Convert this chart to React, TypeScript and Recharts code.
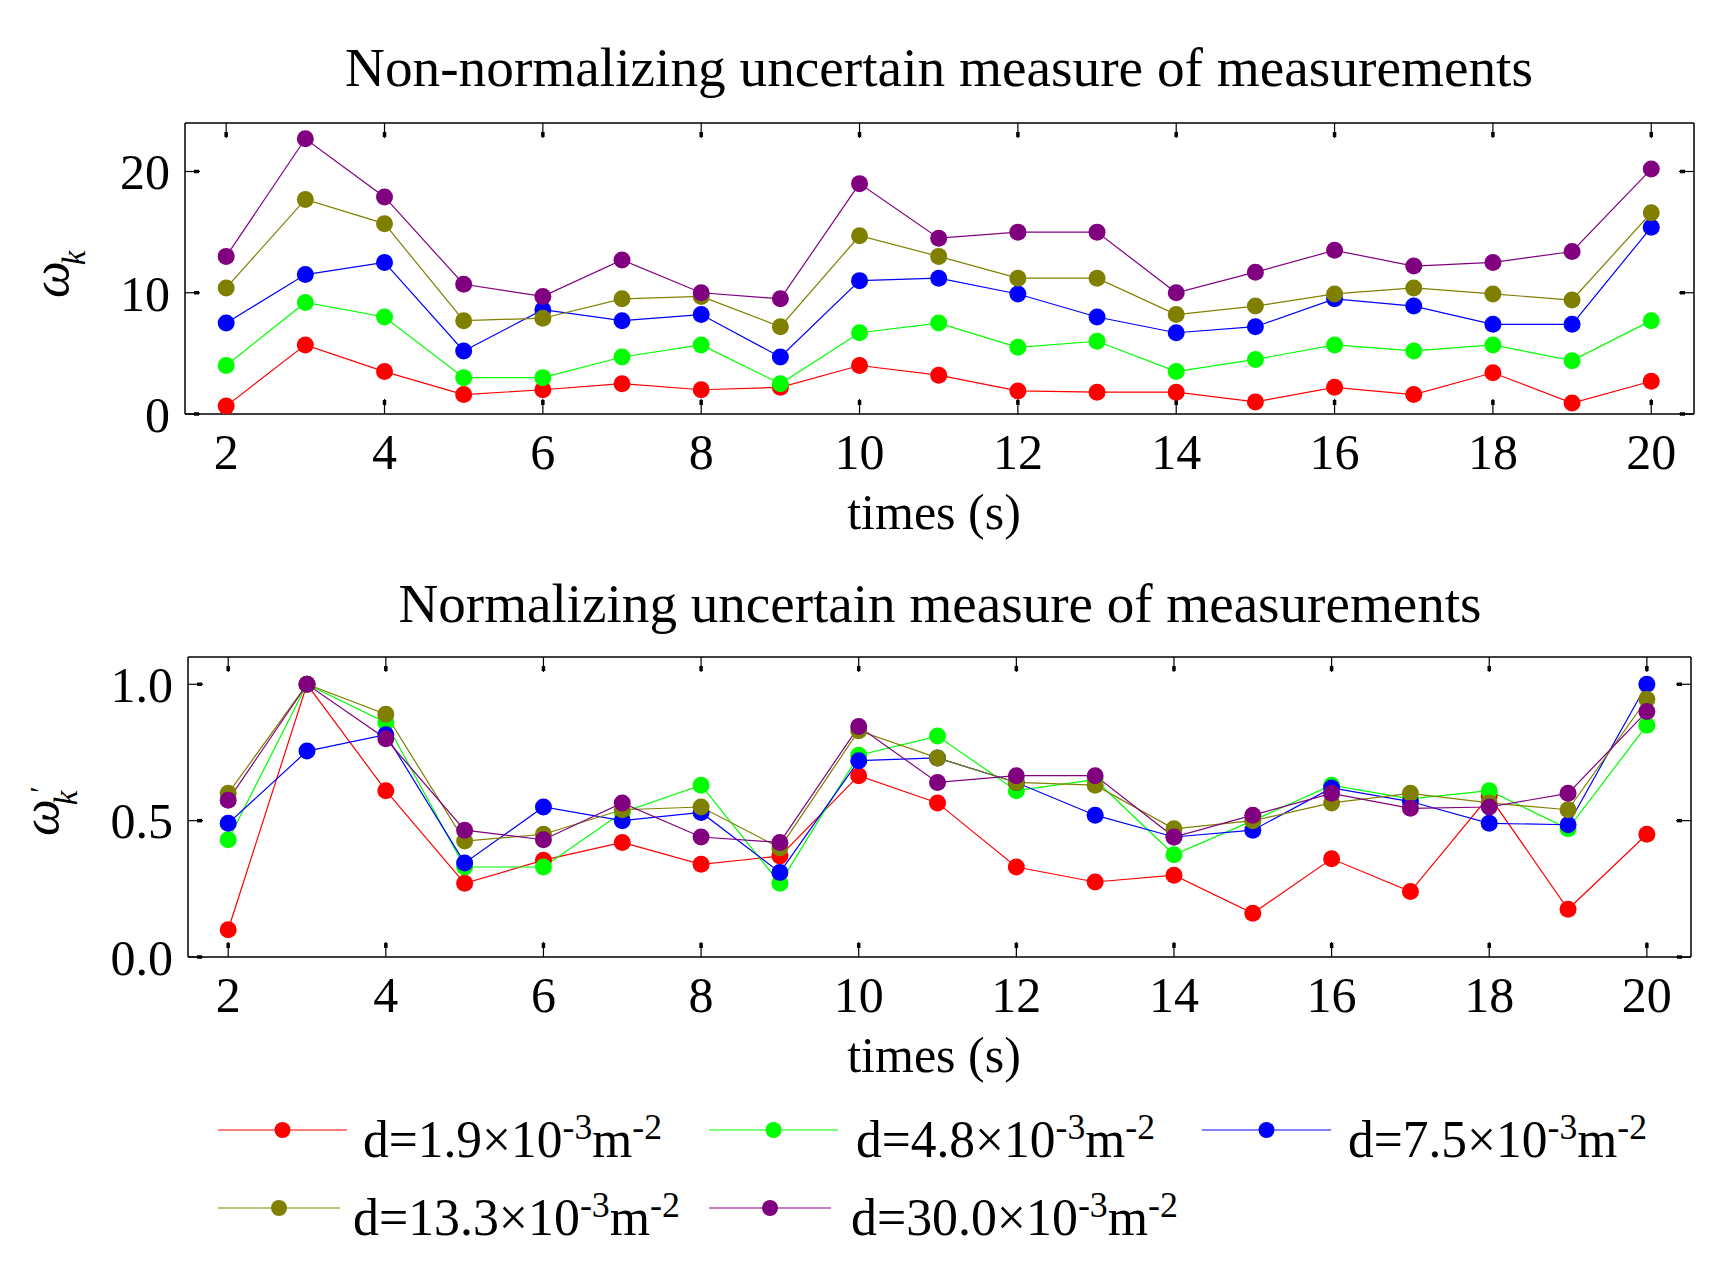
import React from 'react'
import { LineChart, Line, XAxis, YAxis } from 'recharts'

// time axis
const TIMES = [2, 3, 4, 5, 6, 7, 8, 9, 10, 11, 12, 13, 14, 15, 16, 17, 18, 19, 20]
const X_TICKS = [2, 4, 6, 8, 10, 12, 14, 16, 18, 20]
const RAW_Y_TICKS = [0, 10, 20]
const NORM_Y_TICKS = [0, 0.5, 1.0]

// non-normalizing uncertain measure (omega_k)
const RAW_D19 = [0.65, 5.7, 3.5, 1.6, 2.0, 2.5, 2.0, 2.2, 4.0, 3.2, 1.9, 1.8, 1.8, 1.0, 2.2, 1.6, 3.4, 0.9, 2.7]
const RAW_D48 = [4.0, 9.2, 8.0, 3.0, 3.0, 4.7, 5.7, 2.5, 6.7, 7.5, 5.5, 6.0, 3.5, 4.5, 5.7, 5.2, 5.7, 4.4, 7.7]
const RAW_D75 = [7.5, 11.5, 12.5, 5.2, 8.6, 7.7, 8.2, 4.7, 11.0, 11.2, 9.9, 8.0, 6.7, 7.2, 9.5, 8.9, 7.4, 7.4, 15.4]
const RAW_D133 = [10.4, 17.7, 15.7, 7.7, 7.9, 9.5, 9.7, 7.2, 14.7, 13.0, 11.2, 11.2, 8.2, 8.9, 9.9, 10.4, 9.9, 9.4, 16.6]
const RAW_D300 = [13.0, 22.7, 17.9, 10.7, 9.7, 12.7, 10.0, 9.5, 19.0, 14.5, 15.0, 15.0, 10.0, 11.7, 13.5, 12.2, 12.5, 13.4, 20.2]

// normalizing uncertain measure (omega'_k)
const NORM_D19 = [0.1, 1.0, 0.61, 0.27, 0.355, 0.42, 0.34, 0.37, 0.665, 0.565, 0.33, 0.275, 0.3, 0.16, 0.36, 0.24, 0.59, 0.175, 0.45]
const NORM_D48 = [0.43, 1.0, 0.86, 0.33, 0.33, 0.53, 0.63, 0.27, 0.74, 0.81, 0.61, 0.65, 0.375, 0.5, 0.63, 0.58, 0.61, 0.47, 0.85]
const NORM_D75 = [0.49, 0.755, 0.815, 0.345, 0.55, 0.5, 0.53, 0.31, 0.72, 0.73, 0.64, 0.52, 0.44, 0.465, 0.62, 0.57, 0.49, 0.485, 1.0]
const NORM_D133 = [0.6, 1.0, 0.89, 0.425, 0.45, 0.54, 0.55, 0.4, 0.83, 0.73, 0.64, 0.63, 0.47, 0.5, 0.565, 0.6, 0.565, 0.54, 0.945]
const NORM_D300 = [0.575, 1.0, 0.8, 0.465, 0.43, 0.565, 0.44, 0.42, 0.845, 0.64, 0.665, 0.665, 0.44, 0.52, 0.6, 0.545, 0.55, 0.6, 0.9]

const SERIES = [
  { key: 'd19', label: '1.9', color: '#ff0000', raw: RAW_D19, norm: NORM_D19 },
  { key: 'd48', label: '4.8', color: '#00ff00', raw: RAW_D48, norm: NORM_D48 },
  { key: 'd75', label: '7.5', color: '#0000ff', raw: RAW_D75, norm: NORM_D75 },
  { key: 'd133', label: '13.3', color: '#808000', raw: RAW_D133, norm: NORM_D133 },
  { key: 'd300', label: '30.0', color: '#800080', raw: RAW_D300, norm: NORM_D300 },
]

const rawData = TIMES.map((t, i) => {
  const row: Record<string, number> = { t }
  SERIES.forEach(s => { row[s.key] = s.raw[i] })
  return row
})

const normData = TIMES.map((t, i) => {
  const row: Record<string, number> = { t }
  SERIES.forEach(s => { row[s.key] = s.norm[i] })
  return row
})

const FONT = '"Liberation Serif", "DejaVu Serif", serif'
const TICK_TEXT = { fontFamily: FONT, fontSize: 50, fill: '#000' }
const blank = () => ''
const thinTick = { stroke: '#000', strokeWidth: 1.2 }
const blockTick = { stroke: '#000', strokeWidth: 3.5, strokeDasharray: '5 40' }

// box frame with inward ticks on all four sides (axes are 1px thick so they still render)
function frameAxes(xDomain: number[], yDomain: number[], yTicks: number[], yFmt: (v: number) => string) {
  const common = { allowDataOverflow: true, interval: 0 as const, stroke: '#000', tickSize: -15 }
  return [
    <XAxis key="xb" xAxisId="x" dataKey="t" type="number" domain={xDomain} ticks={X_TICKS} height={1}
      {...common} axisLine={{ strokeWidth: 1.5 }} tickLine={thinTick} tickMargin={34.5} tick={TICK_TEXT} />,
    <XAxis key="xb2" xAxisId="xb2" dataKey="t" type="number" domain={xDomain} ticks={X_TICKS} height={1}
      {...common} axisLine={false} tickLine={blockTick} tickFormatter={blank} />,
    <XAxis key="xt" xAxisId="xt" orientation="top" dataKey="t" type="number" domain={xDomain} ticks={X_TICKS} height={1}
      {...common} axisLine={{ strokeWidth: 1.5 }} tickLine={thinTick} tickFormatter={blank} />,
    <XAxis key="xt2" xAxisId="xt2" orientation="top" dataKey="t" type="number" domain={xDomain} ticks={X_TICKS} height={1}
      {...common} axisLine={false} tickLine={blockTick} tickFormatter={blank} />,
    <YAxis key="yl" yAxisId="y" type="number" domain={yDomain} ticks={yTicks} width={1}
      {...common} axisLine={{ strokeWidth: 1.5 }} tickLine={thinTick} tickMargin={30} tick={TICK_TEXT} tickFormatter={yFmt} />,
    <YAxis key="yl2" yAxisId="yl2" type="number" domain={yDomain} ticks={yTicks} width={1}
      {...common} axisLine={false} tickLine={blockTick} tickFormatter={blank} />,
    <YAxis key="yr" yAxisId="yr" orientation="right" type="number" domain={yDomain} ticks={yTicks} width={1}
      {...common} axisLine={{ strokeWidth: 1.5 }} tickLine={thinTick} tickFormatter={blank} />,
    <YAxis key="yr2" yAxisId="yr2" orientation="right" type="number" domain={yDomain} ticks={yTicks} width={1}
      {...common} axisLine={false} tickLine={blockTick} tickFormatter={blank} />,
  ]
}

function seriesLines() {
  return SERIES.map(s => (
    <Line
      key={s.key}
      xAxisId="x"
      yAxisId="y"
      type="linear"
      dataKey={s.key}
      stroke={s.color}
      strokeWidth={1.2}
      dot={{ r: 8.5, fill: s.color, stroke: 'none' }}
      activeDot={false}
      isAnimationActive={false}
    />
  ))
}

// legend slots: line start, line length, text start, line y, text baseline
const LEGEND_POS = [
  { x: 218, len: 129, tx: 363, y: 1130, base: 1157 },
  { x: 709, len: 129, tx: 856, y: 1130, base: 1157 },
  { x: 1202, len: 129, tx: 1348, y: 1130, base: 1157 },
  { x: 218, len: 122, tx: 353, y: 1208, base: 1235 },
  { x: 709, len: 122, tx: 851, y: 1208, base: 1235 },
]

function Overlay() {
  const textStyle = { fontFamily: FONT, fill: '#000' }
  return (
    <svg width={1728} height={1270} style={{ position: 'absolute', left: 0, top: 0, pointerEvents: 'none' }}>
      <text x={939} y={86} fontSize={55} textAnchor="middle" textLength={1188} lengthAdjust="spacingAndGlyphs" style={textStyle}>
        Non-normalizing uncertain measure of measurements
      </text>
      <text x={940} y={622} fontSize={55} textAnchor="middle" textLength={1083} lengthAdjust="spacingAndGlyphs" style={textStyle}>
        Normalizing uncertain measure of measurements
      </text>
      <text x={934} y={529} fontSize={50} textAnchor="middle" style={textStyle}>times (s)</text>
      <text x={934} y={1072} fontSize={50} textAnchor="middle" style={textStyle}>times (s)</text>

      <text transform="translate(68, 298) rotate(-90)" fontSize={52} fontStyle="italic" style={textStyle}>
        ω<tspan fontSize={33} dx={-4} dy={17}>k</tspan>
      </text>
      <text transform="translate(58, 836) rotate(-90)" fontSize={52} fontStyle="italic" style={textStyle}>
        ω<tspan fontSize={33} dx={-6} dy={19}>k</tspan>
        <tspan fontSize={30} dx={-2} dy={-27} fontStyle="normal">′</tspan>
      </text>

      {SERIES.map((s, i) => {
        const p = LEGEND_POS[i]
        return (
          <g key={s.key}>
            <line x1={p.x} x2={p.x + p.len} y1={p.y} y2={p.y} stroke={s.color} strokeWidth={1.2} />
            <circle cx={p.x + p.len / 2} cy={p.y} r={8} fill={s.color} />
            <text x={p.tx} y={p.base} fontSize={52} textLength={299 + 28 * (s.label.length - 3)}
              lengthAdjust="spacingAndGlyphs" style={textStyle}>
              {`d=${s.label}×10`}
              <tspan fontSize={36} dy={-18}>-3</tspan>
              <tspan fontSize={52} dy={18}>m</tspan>
              <tspan fontSize={36} dy={-18}>-2</tspan>
            </text>
          </g>
        )
      })}
    </svg>
  )
}

export default function App() {
  return (
    <div style={{ position: 'relative', width: 1728, height: 1270, background: '#fff', overflow: 'hidden' }}>
      <style>{'body{margin:0}'}</style>
      <div style={{ position: 'absolute', left: 0, top: 0 }}>
        <LineChart width={1728} height={560} data={rawData} margin={{ top: 121, right: 32, bottom: 144, left: 183 }}>
          {frameAxes([1.48, 20.54], [0, 24], RAW_Y_TICKS, (v: number) => String(v))}
          {seriesLines()}
        </LineChart>
      </div>
      <div style={{ position: 'absolute', left: 0, top: 560 }}>
        <LineChart width={1728} height={540} data={normData} margin={{ top: 95, right: 35, bottom: 141, left: 186 }}>
          {frameAxes([1.49, 20.56], [0, 1.1], NORM_Y_TICKS, (v: number) => v.toFixed(1))}
          {seriesLines()}
        </LineChart>
      </div>
      <Overlay />
    </div>
  )
}
